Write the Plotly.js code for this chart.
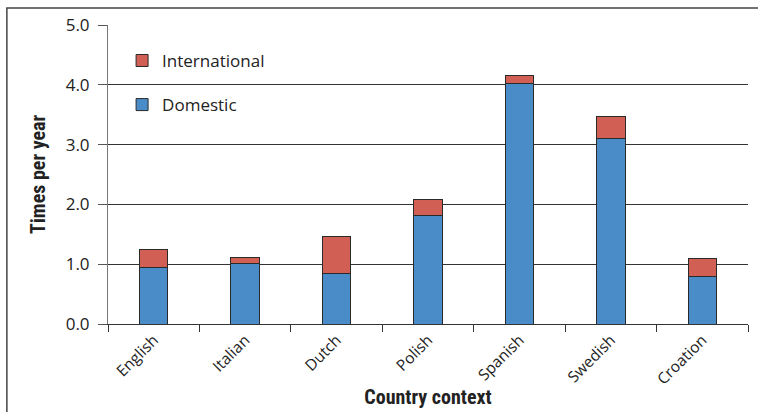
<!DOCTYPE html>
<html>
<head>
<meta charset="utf-8">
<script src="https://cdn.plot.ly/plotly-3.0.1.min.js"></script>
<style>html,body{margin:0;padding:0;background:#fff;}#chart{width:758px;height:412px;}</style>
</head>
<body>
<div id="chart"></div>
<script>
const categories = ["English", "Italian", "Dutch", "Polish", "Spanish", "Swedish", "Croation"];
const domestic = [0.94, 1.01, 0.84, 1.82, 4.03, 3.10, 0.80];
const international = [0.31, 0.10, 0.62, 0.27, 0.12, 0.37, 0.29];
const yTickVals = [0, 1, 2, 3, 4, 5];
const yTickText = ["0.0", "1.0", "2.0", "3.0", "4.0", "5.0"];

const font = "'Open Sans', 'Noto Sans', Arial, sans-serif";
const titleFont = "'Liberation Sans Narrow', 'Arial Narrow', 'Roboto Condensed', Arial, sans-serif";

const data = [
  {
    type: "bar", name: "Domestic", x: categories, y: domestic,
    marker: {color: "#4a8cc8", line: {color: "#2a2a2a", width: 1}},
    legendgroup: "d", legendrank: 2
  },
  {
    type: "bar", name: "International", x: categories, y: international,
    marker: {color: "#d15f53", line: {color: "#2a2a2a", width: 1}},
    legendgroup: "i", legendrank: 1
  }
];

const layout = {
  width: 758, height: 412,
  margin: {l: 108, r: 10, t: 25, b: 88},
  barmode: "stack",
  bargap: 0.69,
  paper_bgcolor: "#fff",
  plot_bgcolor: "#fff",
  font: {family: font, size: 16, color: "#222"},
  showlegend: true,
  legend: {
    x: 0.022, y: 0.94, xanchor: "left", yanchor: "top",
    traceorder: "grouped", tracegroupgap: 19,
    font: {family: font, size: 17, color: "#222"},
    bgcolor: "rgba(0,0,0,0)"
  },
  xaxis: {
    type: "category",
    tickangle: -45,
    tickson: "boundaries",
    ticks: "outside", ticklen: 7, tickcolor: "#333",
    showline: true, linecolor: "#333", linewidth: 1,
    tickfont: {family: font, size: 15.5, color: "#222"},
    title: {text: "<b>Country context</b>", font: {family: titleFont, size: 20, color: "#222"}, standoff: 2}
  },
  yaxis: {
    range: [0, 5],
    tickvals: yTickVals, ticktext: yTickText,
    ticks: "outside", ticklen: 9, tickcolor: "#555",
    ticklabelstandoff: 5,
    showline: true, linecolor: "#777", linewidth: 1,
    showgrid: true, gridcolor: "#333", gridwidth: 1,
    zeroline: false,
    tickfont: {family: font, size: 17, color: "#222"},
    title: {text: "<b>Times per year</b>", font: {family: titleFont, size: 20, color: "#222"}, standoff: 14}
  },
  shapes: [
    {type: "rect", xref: "paper", yref: "paper", x0: -0.158, x1: 1.1, y0: -0.5, y1: 1.057,
     line: {color: "#444", width: 1.5}, fillcolor: "rgba(0,0,0,0)", layer: "below"}
  ]
};

Plotly.newPlot("chart", data, layout, {displayModeBar: false, staticPlot: true});
</script>
</body>
</html>
